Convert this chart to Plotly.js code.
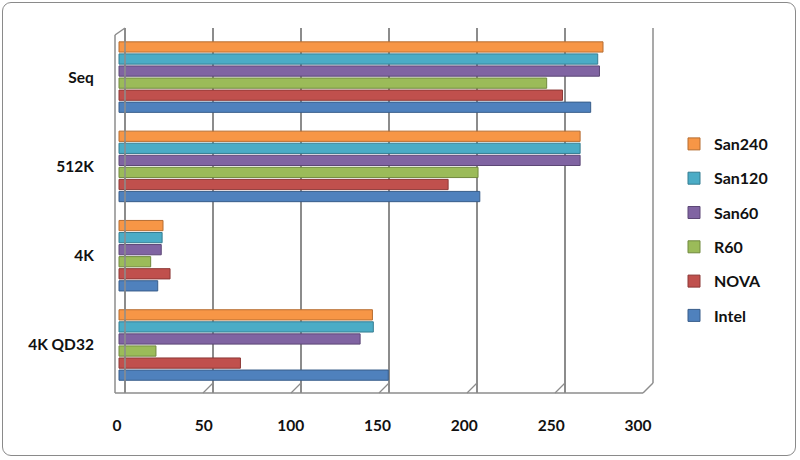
<!DOCTYPE html>
<html>
<head>
<meta charset="utf-8">
<script src="https://cdn.plot.ly/plotly-3.0.1.min.js"></script>
<style>
  html, body { margin: 0; padding: 0; background: #fff; }
  #wrap { position: relative; width: 800px; height: 460px; }
  #chart { width: 800px; height: 460px; }
  #frame { position: absolute; left: 2px; top: 2px; width: 794px; height: 454px;
           border: 1px solid #8a8a8a; border-radius: 9px; pointer-events: none; box-sizing: border-box; }
</style>
</head>
<body>
<div id="wrap"><div id="chart"></div><div id="frame"></div></div>
<script>
// Categories (bottom to top)
const categories = ['4K QD32', '4K', '512K', 'Seq'];
// Series values per category
const intel  = [153, 22, 205, 268];
const nova   = [69, 29, 187, 252];
const r60    = [21, 18, 204, 243];
const san60  = [137, 24, 262, 273];
const san120 = [144.5, 24.5, 262, 272];
const san240 = [144, 25, 262, 275];
const seriesNames = ['Intel', 'NOVA', 'R60', 'San60', 'San120', 'San240'];
const seriesValues = [intel, nova, r60, san60, san120, san240];
const seriesColors = ['#4F81BD', '#C0504D', '#9BBB59', '#8064A2', '#4BACC6', '#F79646'];
const seriesEdges  = ['#385D8A', '#8C3836', '#71893F', '#5C4776', '#357D91', '#B66D31'];
const tickValues = [0, 50, 100, 150, 200, 250, 300];

// Plot area in pixels (used only for decorative 3D frame)
const L = 115, R = 653, T = 28, B = 393;
const W = R - L, H = B - T;
const px = X => (X - L) / W;
const py = Y => (B - Y) / H;

const traces = seriesNames.map((name, i) => ({
  type: 'bar', orientation: 'h', name: name,
  y: categories, x: seriesValues[i],
  legendgroup: name, legendrank: seriesNames.length - i,
  marker: { color: seriesColors[i], line: { color: seriesEdges[i], width: 1 } },
  hoverinfo: 'x+name'
}));

const frameColor = '#8c8c8c';
const shapes = [];
function line(x0, y0, x1, y1, w) {
  shapes.push({ type: 'line', xref: 'paper', yref: 'paper',
    x0: px(x0), y0: py(y0), x1: px(x1), y1: py(y1),
    line: { color: frameColor, width: w || 1.5 }, layer: 'above' });
}
// white floor strip hiding grid below back floor
shapes.push({ type: 'rect', xref: 'paper', yref: 'paper', x0: px(L + 1), x1: px(R - 1), y0: py(B), y1: py(383),
  fillcolor: '#ffffff', line: { width: 0 }, layer: 'between' });
// walls and floor
line(115, 35, 115, 393);
line(115, 35, 125, 28);
line(125, 28, 125, 383);
line(115, 393, 643, 393);
line(643, 393, 653, 383);
line(653, 383, 653, 28);
// floor diagonal ticks
for (let k = 1; k < 6; k++) {
  const xb = 125 + 88 * k, xf = 115 + 88 * k;
  line(xf, 393, xb, 383, 1.2);
}

const FONT = 'Lato, "Liberation Sans", sans-serif';
const layout = {
  width: 800, height: 460,
  margin: { l: L, r: 800 - R, t: T, b: 460 - B, pad: 0 },
  paper_bgcolor: '#ffffff', plot_bgcolor: '#ffffff',
  font: { family: FONT, color: '#111', size: 14 },
  barmode: 'group', bargap: 0.19, bargroupgap: 0.15,
  showlegend: true,
  legend: {
    x: (674 - L) / W, xanchor: 'left', y: py(127), yanchor: 'top',
    traceorder: 'grouped', tracegroupgap: 10.5,
    font: { family: FONT, size: 16, color: '#111', weight: 'bold' },
    itemwidth: 30, bgcolor: 'rgba(0,0,0,0)'
  },
  xaxis: {
    range: [-(119 - L) / 1.76, -(119 - L) / 1.76 + W / 1.76],
    showgrid: false, zeroline: false, showticklabels: false, showline: false, ticks: '',
    fixedrange: true
  },
  xaxis2: {
    overlaying: 'x', side: 'bottom', anchor: 'y',
    range: [-(125 - L) / 1.76, -(125 - L) / 1.76 + W / 1.76],
    tickvals: tickValues, showgrid: true, gridcolor: '#8c8c8c', gridwidth: 1.2,
    showticklabels: false, zeroline: false, showline: false, ticks: ''
  },
  xaxis3: {
    overlaying: 'x', side: 'bottom', anchor: 'y',
    range: [-(117 - L) / 1.7367, -(117 - L) / 1.7367 + W / 1.7367],
    tickvals: tickValues, ticktext: tickValues.map(String),
    showgrid: false, zeroline: false, showline: false,
    ticks: 'outside', ticklen: 18, tickcolor: 'rgba(0,0,0,0)',
    tickfont: { family: FONT, size: 15.5, color: '#111', weight: 'bold' }
  },
  yaxis: {
    type: 'category', categoryorder: 'array', categoryarray: categories,
    range: [-0.5375, -0.5375 + H / 89.3],
    showgrid: false, zeroline: false, showline: false,
    ticks: 'outside', ticklen: 17, tickcolor: 'rgba(0,0,0,0)',
    tickfont: { family: FONT, size: 15.5, color: '#111', weight: 'bold' }
  },
  shapes: shapes
};

// dummy invisible traces to activate xaxis2/xaxis3
traces.push({ type: 'scatter', x: [0], y: ['Seq'], xaxis: 'x2', mode: 'markers',
  marker: { opacity: 0 }, showlegend: false, hoverinfo: 'skip' });
traces.push({ type: 'scatter', x: [0], y: ['Seq'], xaxis: 'x3', mode: 'markers',
  marker: { opacity: 0 }, showlegend: false, hoverinfo: 'skip' });

Plotly.newPlot('chart', traces, layout, { displayModeBar: false, staticPlot: true });
</script>
</body>
</html>
